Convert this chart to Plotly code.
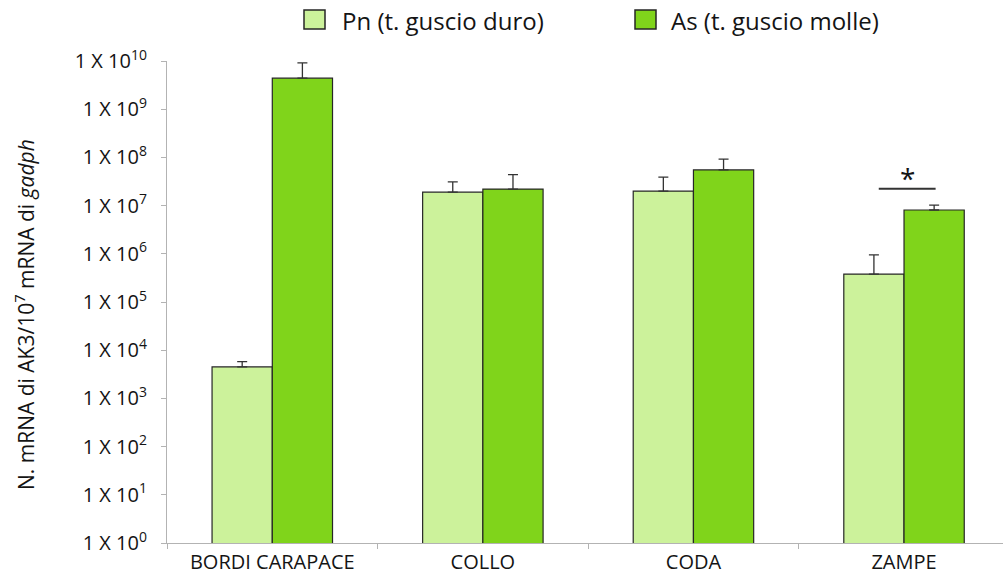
import plotly.graph_objects as go

# Tissue categories and qPCR results (copies of AK3 mRNA per 10^7 gadph mRNA)
categories = ["BORDI CARAPACE", "COLLO", "CODA", "ZAMPE"]
pn_values = [4.5e3, 1.9e7, 2.0e7, 3.8e5]
pn_err_top = [5.8e3, 3.1e7, 3.9e7, 9.5e5]
as_values = [4.4e9, 2.2e7, 5.5e7, 8.1e6]
as_err_top = [9.1e9, 4.4e7, 9.2e7, 1.02e7]
series_names = ["Pn (t. guscio duro)", "As (t. guscio molle)"]
exponents = list(range(0, 11))
tick_text = [f"1 X 10<sup>{e}</sup>" for e in exponents]
y_title = "N. mRNA di AK3/10<sup>7</sup> mRNA di <i>gadph</i>"
# significance bracket over ZAMPE (log10 height of the bar line)
sig_level = 7.35

PN_COLOR = "#CCF29B"
AS_COLOR = "#80D41B"
EDGE = "#262626"
FONT = "'Open Sans', sans-serif"
TXT = "#141414"

W, H = 1003, 575
L, R, T, B = 167, 0, 61, 32

fig = go.Figure()
for name, vals, tops, color in [
    (series_names[0], pn_values, pn_err_top, PN_COLOR),
    (series_names[1], as_values, as_err_top, AS_COLOR),
]:
    fig.add_trace(go.Bar(
        x=categories, y=vals, name=name, showlegend=False,
        marker=dict(color=color, line=dict(color=EDGE, width=1.2)),
        error_y=dict(type="data", symmetric=False,
                     array=[t - v for t, v in zip(tops, vals)],
                     arrayminus=[0] * len(vals),
                     color="#333333", thickness=1.3, width=5),
    ))

# pixel -> paper coordinate helpers
def px_x(x):
    return (x - L) / (W - L - R)

def px_y(y):
    return (H - B - y) / (H - T - B)

# Legend drawn as boxes + labels above the plot area
for box_x0, text_x, name, color in [(304, 340, series_names[0], PN_COLOR),
                                     (635, 669, series_names[1], AS_COLOR)]:
    fig.add_shape(type="rect", xref="paper", yref="paper",
                  x0=px_x(box_x0), x1=px_x(box_x0 + 21), y0=px_y(29), y1=px_y(10),
                  fillcolor=color, line=dict(color=EDGE, width=1.5))
    fig.add_annotation(xref="paper", yref="paper", x=px_x(text_x), y=px_y(20),
                       xanchor="left", yanchor="middle", showarrow=False,
                       text=name, font=dict(family=FONT, size=24, color=TXT))

# Vertical axis title
fig.add_annotation(xref="paper", yref="paper", x=px_x(24), y=px_y(315),
                   xanchor="center", yanchor="middle", showarrow=False,
                   textangle=-90, text=y_title,
                   font=dict(family=FONT, size=21, color=TXT))

# Significance marker over ZAMPE
fig.add_shape(type="line", xref="x", yref="y", x0=2.88, x1=3.15,
              y0=10 ** sig_level, y1=10 ** sig_level,
              line=dict(color="#333333", width=2.2))
fig.add_annotation(xref="x", yref="y", x=3.015, y=sig_level + 0.22, text="*",
                   showarrow=False, yanchor="middle",
                   font=dict(family=FONT, size=28, color=TXT))

fig.update_layout(
    width=W, height=H,
    margin=dict(l=L, r=R, t=T, b=B),
    paper_bgcolor="white", plot_bgcolor="white",
    barmode="group", bargap=0.428, bargroupgap=0,
    font=dict(family=FONT, color=TXT),
    xaxis=dict(
        type="category", range=[-0.5, 3.47],
        showline=True, linecolor="#b3b3b3", linewidth=1,
        ticks="outside", tickson="boundaries", ticklen=5, tickcolor="#b3b3b3",
        tickfont=dict(size=20, family=FONT, color=TXT),
        ticklabelstandoff=1,
        showgrid=False, zeroline=False,
    ),
    yaxis=dict(
        type="log", range=[0, 10],
        tickvals=[10 ** e for e in exponents], ticktext=tick_text,
        showline=True, linecolor="#b3b3b3", linewidth=1,
        ticks="outside", ticklen=5, tickcolor="#b3b3b3",
        tickfont=dict(size=20, family=FONT, color=TXT),
        ticklabelstandoff=10,
        showgrid=False, zeroline=False,
    ),
)

fig.write_html("out.html")
